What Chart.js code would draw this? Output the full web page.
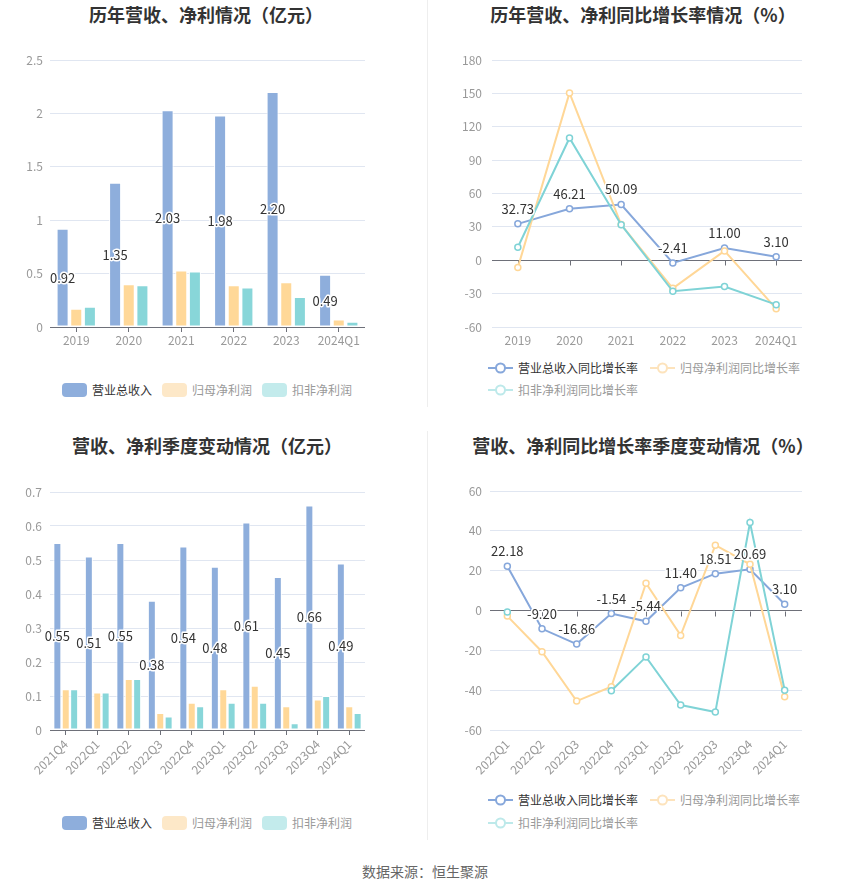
<!DOCTYPE html>
<html><head><meta charset="utf-8">
<script src="https://cdn.jsdelivr.net/npm/chart.js@4"></script>
<style>
body{margin:0;background:#fff;width:850px;height:890px;position:relative;overflow:hidden;font-family:"Noto Sans CJK SC",sans-serif;}
.title{position:absolute;width:400px;text-align:center;font-size:18px;font-weight:bold;color:#333;line-height:24px;white-space:nowrap;}
canvas{position:absolute;}
.legend{position:absolute;display:flex;align-items:center;font-size:12px;line-height:14px;white-space:nowrap;height:14px;}
.item{display:flex;align-items:center;margin-right:10px;}
.line-item{display:flex;align-items:center;margin-right:12px;}
.box{width:25px;height:14px;border-radius:4px;margin-right:5px;}
.line-item svg{margin-right:5px;}
.divider{position:absolute;left:427px;width:1px;background:#eeeeee;}
.source{position:absolute;top:861px;left:0;width:850px;text-align:center;font-size:14px;line-height:20px;color:#666;}
</style></head>
<body>
<div class="divider" style="top:0;height:407px"></div>
<div class="divider" style="top:431px;height:409px"></div>

<div class="title" style="left:6px;top:2px">历年营收、净利情况（亿元）</div>
<div class="title" style="left:443px;top:2px">历年营收、净利同比增长率情况（%）</div>
<div class="title" style="left:7px;top:433px">营收、净利季度变动情况（亿元）</div>
<div class="title" style="left:443px;top:433px">营收、净利同比增长率季度变动情况（%）</div>

<canvas id="c1" width="365" height="317" style="left:0;top:40px"></canvas>
<canvas id="c2" width="360" height="317" style="left:442px;top:40px"></canvas>
<canvas id="c3" width="365" height="318" style="left:0;top:472px"></canvas>
<canvas id="c4" width="362" height="319" style="left:440px;top:471px"></canvas>

<div class="legend" id="lg1" style="left:62px;top:383px"></div>
<div class="legend" id="lg2a" style="left:488px;top:361px"></div>
<div class="legend" id="lg2b" style="left:488px;top:383px"></div>
<div class="legend" id="lg3" style="left:62px;top:816px"></div>
<div class="legend" id="lg4a" style="left:488px;top:793px"></div>
<div class="legend" id="lg4b" style="left:488px;top:816px"></div>

<div class="source">数据来源：恒生聚源</div>

<script>
// ---------- data ----------
const years = ['2019', '2020', '2021', '2022', '2023', '2024Q1'];
const yearRevenue = [0.92, 1.35, 2.03, 1.98, 2.20, 0.49];
const yearNetProfit = [0.17, 0.40, 0.53, 0.39, 0.42, 0.07];
const yearDeductedProfit = [0.19, 0.39, 0.52, 0.37, 0.28, 0.05];

const yearRevenueGrowth = [32.73, 46.21, 50.09, -2.41, 11.00, 3.10];
const yearNetProfitGrowth = [-6.6, 150.4, 32.1, -25.2, 8.4, -43.5];
const yearDeductedGrowth = [11.7, 109.9, 32.0, -27.9, -23.7, -39.9];

const quarters = ['2021Q4', '2022Q1', '2022Q2', '2022Q3', '2022Q4', '2023Q1', '2023Q2', '2023Q3', '2023Q4', '2024Q1'];
const quarterRevenue = [0.55, 0.51, 0.55, 0.38, 0.54, 0.48, 0.61, 0.45, 0.66, 0.49];
const quarterNetProfit = [0.12, 0.11, 0.15, 0.05, 0.08, 0.12, 0.13, 0.07, 0.09, 0.07];
const quarterDeductedProfit = [0.12, 0.11, 0.15, 0.04, 0.07, 0.08, 0.08, 0.02, 0.10, 0.05];

const growthQuarters = ['2022Q1', '2022Q2', '2022Q3', '2022Q4', '2023Q1', '2023Q2', '2023Q3', '2023Q4', '2024Q1'];
const quarterRevenueGrowth = [22.18, -9.20, -16.86, -1.54, -5.44, 11.40, 18.51, 20.69, 3.10];
const quarterNetProfitGrowth = [-2.8, -20.7, -45.5, -38.3, 13.7, -12.5, 32.8, 23.2, -43.3];
const quarterDeductedGrowth = [-0.7, null, null, -40.3, -23.3, -47.5, -51.0, 44.2, -40.0];

const barSeriesNames = ['营业总收入', '归母净利润', '扣非净利润'];
const lineSeriesNames = ['营业总收入同比增长率', '归母净利润同比增长率', '扣非净利润同比增长率'];

// ---------- styles ----------
const FONT = '"Noto Sans CJK SC", sans-serif';
const barColors = ['#8EAEDC', '#FFD898', '#88D6D9'];
const barLegendColors = ['#8EAEDC', '#FDE8C8', '#C3EBEC'];
const lineColors = ['#86A7DB', '#FFD797', '#7FD3D6'];
const lineLegendColors = ['#86A7DB', '#FDE3BC', '#BDE9EA'];
const legendTextColors = ['#333', '#999', '#999'];

Chart.defaults.font.family = FONT;
Chart.defaults.font.size = 12;
Chart.defaults.color = '#999';

const valueLabels = {
  id: 'valueLabels',
  afterDatasetsDraw(chart, args, opts) {
    const ctx = chart.ctx;
    const idx = opts.datasetIndex || 0;
    const meta = chart.getDatasetMeta(idx);
    const data = chart.data.datasets[idx].data;
    ctx.save();
    ctx.font = '13px ' + FONT;
    ctx.textAlign = 'center';
    ctx.textBaseline = 'middle';
    ctx.lineJoin = 'round';
    ctx.lineWidth = 3;
    ctx.strokeStyle = '#fff';
    ctx.fillStyle = '#333';
    meta.data.forEach((el, i) => {
      const v = data[i];
      if (v === null || v === undefined) return;
      const y = opts.mode === 'center' ? (el.y + el.base) / 2 : el.y - 15;
      const t = v.toFixed(2);
      ctx.strokeText(t, el.x, y);
      ctx.fillText(t, el.x, y);
    });
    ctx.restore();
  }
};

const zeroTicks = {
  id: 'zeroTicks',
  beforeDatasetsDraw(chart) {
    const ctx = chart.ctx;
    const xs = chart.scales.x, ys = chart.scales.y;
    const y0 = Math.round(ys.getPixelForValue(0)) + 0.5;
    ctx.save();
    ctx.strokeStyle = '#6E7079';
    ctx.lineWidth = 1;
    ctx.beginPath();
    for (let i = 0; i < chart.data.labels.length; i++) {
      const x = Math.round(xs.getPixelForValue(i)) + 0.5;
      ctx.moveTo(x, y0);
      ctx.lineTo(x, y0 + 5);
    }
    ctx.stroke();
    ctx.restore();
  }
};

function fmt(v) { return String(+v.toFixed(2)); }

function makeOptions(kind, min, max, step, rotate, yPad) {
  const line = kind === 'line';
  return {
    responsive: false,
    animation: false,
    events: [],
    layout: { autoPadding: false, padding: { top: 20, left: 0, right: 0, bottom: 0 } },
    plugins: {
      legend: { display: false },
      tooltip: { enabled: false },
      title: { display: false },
      valueLabels: { datasetIndex: 0, mode: line ? 'above' : 'center' }
    },
    scales: {
      x: {
        offset: true,
        grid: {
          display: true, drawOnChartArea: false, drawTicks: true, tickLength: 5, offset: false,
          color: line ? 'rgba(0,0,0,0)' : '#6E7079', tickColor: line ? 'rgba(0,0,0,0)' : '#6E7079'
        },
        border: { display: !line, color: '#6E7079', width: 1 },
        ticks: {
          color: '#999', font: { size: 12, family: FONT }, padding: rotate ? 2 : 1, autoSkip: false,
          maxRotation: rotate ? 45 : 0, minRotation: rotate ? 45 : 0
        },
        afterFit(s) { s.height = rotate ? 60 : 30; }
      },
      y: {
        min: min, max: max,
        grid: {
          drawTicks: false,
          color: (c) => (line && c.tick && c.tick.value === 0) ? '#6E7079' : '#E0E6F1'
        },
        border: { display: false },
        ticks: { stepSize: step, padding: yPad, color: '#999', font: { size: 12, family: FONT }, callback: fmt },
        afterFit(s) { s.width = 50; }
      }
    }
  };
}

function barChart(id, labels, series, min, max, step, rotate, catPct, barPct, yPad) {
  return new Chart(document.getElementById(id), {
    type: 'bar',
    data: {
      labels: labels,
      datasets: series.map((d, i) => ({
        label: barSeriesNames[i], data: d, backgroundColor: barColors[i],
        borderColor: '#fff', borderWidth: 1, borderSkipped: false,
        categoryPercentage: catPct, barPercentage: barPct
      }))
    },
    options: makeOptions('bar', min, max, step, rotate, yPad),
    plugins: [valueLabels]
  });
}

function lineChart(id, labels, series, min, max, step, rotate, yPad) {
  return new Chart(document.getElementById(id), {
    type: 'line',
    data: {
      labels: labels,
      datasets: series.map((d, i) => ({
        label: lineSeriesNames[i], data: d, borderColor: lineColors[i], backgroundColor: '#fff',
        borderWidth: 2, tension: 0, spanGaps: false, order: 2 - i, clip: 8,
        pointRadius: 3, pointBorderWidth: 1.5, pointBackgroundColor: '#fff', pointBorderColor: lineColors[i]
      }))
    },
    options: makeOptions('line', min, max, step, rotate, yPad),
    plugins: [zeroTicks, valueLabels]
  });
}

barChart('c1', years, [yearRevenue, yearNetProfit, yearDeductedProfit], 0, 2.5, 0.5, false, 0.78, 0.88, 7);
lineChart('c2', years, [yearRevenueGrowth, yearNetProfitGrowth, yearDeductedGrowth], -60, 180, 30, false, 10);
barChart('c3', quarters, [quarterRevenue, quarterNetProfit, quarterDeductedProfit], 0, 0.7, 0.1, true, 0.8, 0.95, 8);
lineChart('c4', growthQuarters, [quarterRevenueGrowth, quarterNetProfitGrowth, quarterDeductedGrowth], -60, 60, 20, true, 8);

// ---------- legends ----------
function barLegend(el) {
  const box = document.getElementById(el);
  barSeriesNames.forEach((n, i) => {
    const it = document.createElement('div'); it.className = 'item';
    const b = document.createElement('div'); b.className = 'box'; b.style.background = barLegendColors[i];
    const t = document.createElement('span'); t.textContent = n; t.style.color = legendTextColors[i];
    it.appendChild(b); it.appendChild(t); box.appendChild(it);
  });
}
function lineLegend(el, indices) {
  const box = document.getElementById(el);
  indices.forEach((i) => {
    const it = document.createElement('div'); it.className = 'line-item';
    const c = lineLegendColors[i];
    it.innerHTML = '<svg width="25" height="14" viewBox="0 0 25 14"><line x1="0" y1="7" x2="25" y2="7" stroke="' + c +
      '" stroke-width="2"/><circle cx="12.5" cy="7" r="4.5" fill="#fff" stroke="' + c + '" stroke-width="2"/></svg>';
    const t = document.createElement('span'); t.textContent = lineSeriesNames[i]; t.style.color = legendTextColors[i];
    it.appendChild(t); box.appendChild(it);
  });
}
barLegend('lg1'); barLegend('lg3');
lineLegend('lg2a', [0, 1]); lineLegend('lg2b', [2]);
lineLegend('lg4a', [0, 1]); lineLegend('lg4b', [2]);
</script>
</body></html>
